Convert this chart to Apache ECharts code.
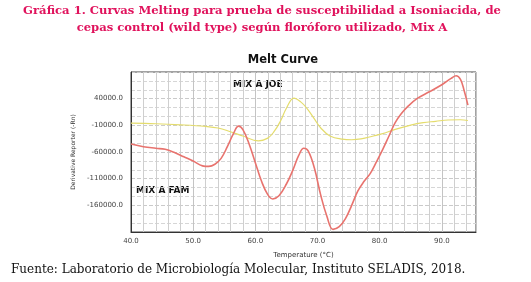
<!DOCTYPE html>
<html>
<head>
<meta charset="utf-8">
<script src="https://cdn.jsdelivr.net/npm/echarts@6/dist/echarts.min.js"></script>
<style>
	html, body { margin: 0; padding: 0; background: #fff; }
	#meltChart { width: 531px; height: 282px; }
</style>
</head>
<body>
<div id="meltChart"></div>
<script>
// curva JOE (amarilla) - temperatura / derivada
const joeTemp = [40, 44, 48, 52, 54, 56, 58, 60.5, 62, 63, 64, 65, 66.2, 67.3, 68.3, 69.5, 70.5, 72, 74, 75.5, 77, 79, 80.5, 82.5, 85, 87, 89, 91, 93, 94.2];
const joeVal = [-6000, -7000, -9000, -12000, -15000, -22000, -30000, -39000, -34000, -22000, -3000, 22000, 41000, 34000, 22000, 2000, -14500, -30000, -36000, -37000, -35500, -30000, -25500, -17500, -9500, -5000, -2500, 0, 500, -1000];

// curva FAM (roja)
const famTemp = [40, 42, 44, 45.5, 47, 48.5, 50, 51.5, 52.5, 53.5, 54.5, 55.5, 56.5, 57.3, 58, 59, 60, 61, 62, 62.8, 63.8, 65, 66, 67, 67.8, 68.5, 69.5, 70.5, 71.5, 72.5, 73.5, 74.5, 75.5, 76.5, 77.5, 78.5, 79.5, 80.5, 81.5, 82.5, 83.5, 84.5, 86, 88, 90, 91.5, 92.3, 93, 93.6, 94.2];
const famVal = [-45000, -50000, -53000, -55000, -61000, -69000, -77000, -86000, -87000, -83000, -72000, -50000, -25000, -11500, -18000, -45000, -80000, -115000, -140000, -148000, -142000, -120000, -95000, -66000, -53000, -58000, -90000, -140000, -180000, -205000, -200000, -185000, -160000, -133000, -115000, -100000, -78000, -55000, -30000, -5000, 12000, 25000, 40000, 53000, 66000, 78000, 83000, 76000, 55000, 28000];

const myChart = echarts.init(document.getElementById('meltChart'));

const pairs = (xs, ys) => xs.map((x, i) => [x, ys[i]]);

const option = {
	backgroundColor: '#fff',
	animation: false,
	title: [
		{
			text: 'Gráfica 1. Curvas Melting para prueba de susceptibilidad a Isoniacida, de\ncepas control (wild type) según floróforo utilizado, Mix A',
			left: 262,
			top: 2,
			padding: 0,
			textAlign: 'center',
			textStyle: {
				fontFamily: 'DejaVu Serif',
				fontWeight: 'bold',
				fontSize: 11.6,
				lineHeight: 17,
				color: '#e0125c'
			}
		},
		{
			text: 'Melt Curve',
			left: 283,
			top: 54,
			padding: 0,
			textAlign: 'center',
			textStyle: {
				fontFamily: 'DejaVu Sans',
				fontWeight: 'bold',
				fontSize: 11.5,
				color: '#111'
			}
		},
		{
			text: 'Fuente: Laboratorio de Microbiología Molecular, Instituto SELADIS, 2018.',
			left: 11,
			top: 264,
			padding: 0,
			textStyle: {
				fontFamily: 'DejaVu Serif',
				fontWeight: 'normal',
				fontSize: 12,
				color: '#111'
			}
		}
	],
	grid: {
		left: 131,
		right: 55,
		top: 72,
		height: 160,
		show: true,
		borderColor: '#444',
		borderWidth: 1
	},
	xAxis: {
		type: 'value',
		min: 40,
		max: 95.5,
		interval: 10,
		name: 'Temperature (°C)',
		nameLocation: 'middle',
		nameGap: 20,
		nameTextStyle: { fontFamily: 'DejaVu Sans', fontSize: 7, color: '#333' },
		axisLine: { onZero: false, lineStyle: { color: '#333' } },
		axisTick: { show: false },
		axisLabel: {
			fontFamily: 'DejaVu Sans',
			fontSize: 7,
			color: '#444',
			margin: 6,
			showMaxLabel: false,
			formatter: v => v.toFixed(1)
		},
		splitLine: { lineStyle: { color: '#c4c4c4' } },
		minorTick: { show: false, splitNumber: 5 },
		minorSplitLine: { show: true, lineStyle: { color: '#cfcfcf' } }
	},
	yAxis: {
		type: 'value',
		min: -210000,
		max: 90000,
		interval: 50000,
		name: 'Derivative Reporter (-Rn)',
		nameLocation: 'middle',
		nameRotate: 90,
		nameGap: 38,
		nameTextStyle: { fontFamily: 'DejaVu Sans', fontSize: 6, color: '#333' },
		axisLine: { show: true, onZero: false, lineStyle: { color: '#333' } },
		axisTick: { show: false },
		axisLabel: {
			fontFamily: 'DejaVu Sans',
			fontSize: 7,
			color: '#444',
			margin: 8,
			showMinLabel: false,
			showMaxLabel: false,
			formatter: v => v.toFixed(1)
		},
		splitLine: { lineStyle: { color: '#cacaca', type: 'dashed' } },
		minorTick: { show: false, splitNumber: 3 },
		minorSplitLine: { show: true, lineStyle: { color: '#d6d6d6', type: 'dashed' } }
	},
	graphic: [
		{
			type: 'text', left: 233, top: 80,
			style: { text: 'MIX A JOE', font: 'bold 9px "DejaVu Sans"', fill: '#111' }
		},
		{
			type: 'text', left: 136, top: 186,
			style: { text: 'MIX A FAM', font: 'bold 9px "DejaVu Sans"', fill: '#111' }
		}
	],
	series: [
		{
			name: 'MIX A JOE',
			type: 'line',
			smooth: 0.4,
			showSymbol: false,
			lineStyle: { color: '#e4dc6c', width: 1.2 },
			data: pairs(joeTemp, joeVal)
		},
		{
			name: 'MIX A FAM',
			type: 'line',
			smooth: 0.4,
			showSymbol: false,
			lineStyle: { color: '#e8736e', width: 1.6 },
			data: pairs(famTemp, famVal)
		}
	]
};
myChart.setOption(option);
</script>
</body>
</html>
